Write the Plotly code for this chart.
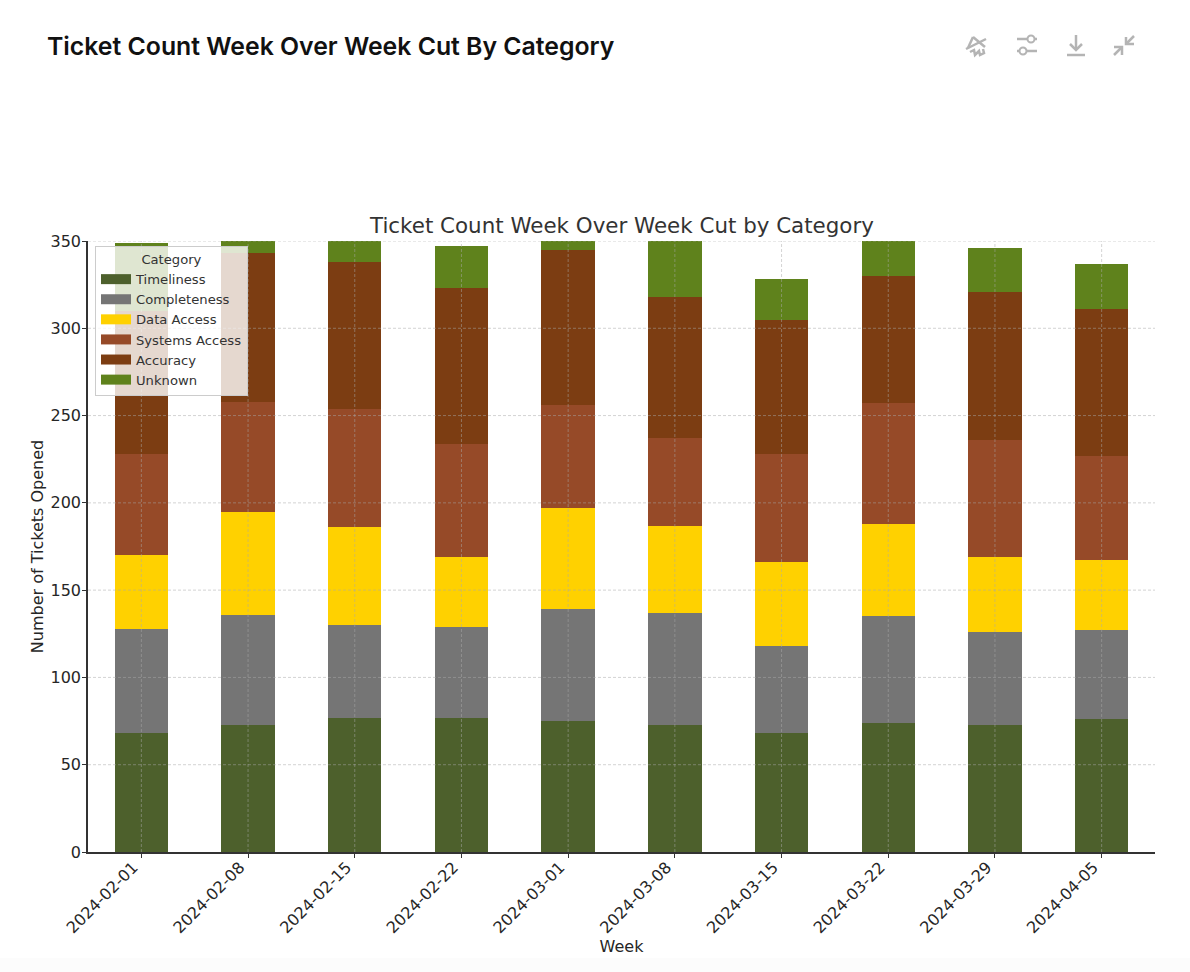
import plotly.graph_objects as go

W = 1190
H = 972

weeks = ["2024-02-01", "2024-02-08", "2024-02-15", "2024-02-22", "2024-03-01",
         "2024-03-08", "2024-03-15", "2024-03-22", "2024-03-29", "2024-04-05"]

timeliness = [68, 73, 77, 77, 75, 73, 68, 74, 73, 76]
completeness = [60, 63, 53, 52, 64, 64, 50, 61, 53, 51]
data_access = [42, 59, 56, 40, 58, 50, 48, 53, 43, 40]
systems_access = [58, 63, 68, 65, 59, 50, 62, 69, 67, 60]
accuracy = [82, 85, 84, 89, 89, 81, 77, 73, 85, 84]
unknown = [39, 22, 24, 24, 25, 32, 23, 24, 25, 26]

y_ticks = [0, 50, 100, 150, 200, 250, 300, 350]

# plot area in page pixels
L, R, T, B = 88, 1155, 241, 852
FONT = "DejaVu Sans"
GRID = "rgba(170,170,170,0.5)"
ICON = "#b4b4b4"

series = [
    ("Timeliness", timeliness, "#4d602c"),
    ("Completeness", completeness, "#757575"),
    ("Data Access", data_access, "#ffd100"),
    ("Systems Access", systems_access, "#964a28"),
    ("Accuracy", accuracy, "#7c3d12"),
    ("Unknown", unknown, "#5f821c"),
]

fig = go.Figure()
for name, values, color in series:
    fig.add_trace(go.Bar(x=weeks, y=values, name=name, width=0.5, showlegend=False,
                         marker=dict(color=color, line=dict(width=0))))

# bar legend keys are small squares, thick line keys give the wide swatches
for name, values, color in series:
    fig.add_trace(go.Scatter(x=[weeks[0]], y=[None], name=name, mode="lines",
                             line=dict(color=color, width=10)))


def px(x):
    return (x - L) / (R - L)


def py(y):
    return (B - y) / (B - T)


# faint grey strip along the bottom of the page
shapes = [dict(type="rect", xref="paper", yref="paper", x0=px(0), x1=px(W), y0=py(H), y1=py(958),
               layer="below", fillcolor="#fcfcfc", line=dict(width=0))]

# grid sits above the bars in the original, so it is drawn as shapes
for t in y_ticks[1:]:
    shapes.append(dict(type="line", xref="paper", yref="y", x0=0, x1=1, y0=t, y1=t, layer="above",
                       line=dict(color=GRID, width=1, dash="3px,2px")))
for w in weeks:
    shapes.append(dict(type="line", xref="x", yref="paper", x0=w, x1=w, y0=0, y1=1, layer="above",
                       line=dict(color=GRID, width=1, dash="3px,2px")))


def icon_path(points):
    return "M" + " L".join(f"{px(x):.5f},{py(y):.5f}" for x, y in points)


icon_lines = [
    # hidden chart glyph
    [(973, 37), (968, 48)], [(973, 37), (985, 47)], [(966, 49), (986, 39)],
    [(970, 52), (974, 50), (975, 55), (979, 51), (980, 55), (984, 53), (983, 49)],
    # sliders
    [(1017, 39), (1027, 39)], [(1035, 39), (1037, 39)],
    [(1017, 51), (1019, 51)], [(1027, 51), (1037, 51)],
    # download
    [(1076, 35), (1076, 50)], [(1070, 44), (1076, 50), (1082, 44)], [(1067, 55), (1085, 55)],
    # collapse
    [(1126, 44), (1134, 36)], [(1126, 37), (1126, 44), (1134, 44)],
    [(1122, 47), (1114, 55)], [(1114, 47), (1122, 47), (1122, 55)],
]
for pts in icon_lines:
    shapes.append(dict(type="path", xref="paper", yref="paper", path=icon_path(pts), layer="above",
                       line=dict(color=ICON, width=2.5)))
for cx, cy in [(1031, 39), (1023, 51)]:
    shapes.append(dict(type="circle", xref="paper", yref="paper", layer="above",
                       x0=px(cx - 3.5), x1=px(cx + 3.5), y0=py(cy + 3.5), y1=py(cy - 3.5),
                       line=dict(color=ICON, width=2)))

fig.update_layout(
    width=W,
    height=H,
    margin=dict(l=L, r=W - R, t=T, b=H - B),
    paper_bgcolor="#ffffff",
    plot_bgcolor="#ffffff",
    barmode="stack",
    font=dict(family=FONT, color="#262626", size=16),
    showlegend=True,
    shapes=shapes,
    title=dict(text="Ticket Count Week Over Week Cut By Category", x=47 / W, y=1 - 46.5 / H,
               xanchor="left", yanchor="middle", xref="container", yref="container",
               font=dict(family="Inter", size=24.8, weight=600, color="#111111")),
    annotations=[dict(text="Ticket Count Week Over Week Cut by Category", xref="paper", yref="paper",
                      x=px(621), y=py(226), xanchor="center", yanchor="middle", showarrow=False,
                      font=dict(family=FONT, size=21.4, color="#333333"))],
    legend=dict(x=px(95), y=py(246), xanchor="left", yanchor="top", traceorder="normal",
                bgcolor="rgba(255,255,255,0.8)", bordercolor="#cccccc", borderwidth=1,
                font=dict(family=FONT, size=13.15, color="#333333"),
                title=dict(text="Category", side="top center", font=dict(family=FONT, size=13.15, color="#333333"))),
    xaxis=dict(title=dict(text="Week", font=dict(size=16), standoff=2), type="category",
               categoryorder="array", categoryarray=weeks, range=[-0.5, 9.5], tickangle=-45,
               showgrid=False, showline=True, linecolor="#333333", linewidth=1.5,
               ticks="outside", ticklen=4, tickcolor="#333333", tickfont=dict(size=16),
               ticklabelshift=-8, ticklabelstandoff=-6),
    yaxis=dict(title=dict(text="Number of Tickets Opened", font=dict(size=16), standoff=3),
               range=[0, 350], tickvals=y_ticks, showgrid=False, showline=True, zeroline=False,
               linecolor="#333333", linewidth=1.5, ticks="outside", ticklen=4, tickcolor="#333333",
               tickfont=dict(size=16), ticklabelstandoff=-2),
)

fig.write_html("out.html", config=dict(displayModeBar=False),
               post_script="document.body.style.margin='0';document.body.style.overflow='hidden';")
